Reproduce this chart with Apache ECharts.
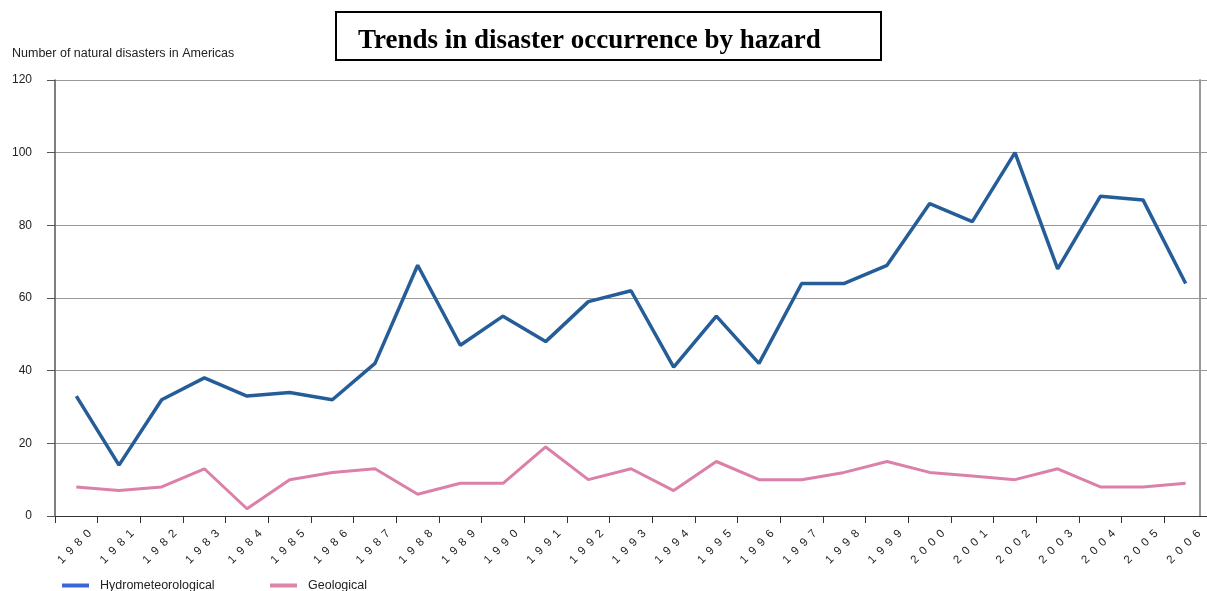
<!DOCTYPE html>
<html>
<head>
<meta charset="utf-8">
<script src="https://cdn.jsdelivr.net/npm/echarts@6/dist/echarts.min.js"></script>
<style>
html,body{margin:0;padding:0;background:#fff;}
#chart{width:1207px;height:591px;}
</style>
</head>
<body>
<div id="chart"></div>
<script>
var years = ['1980','1981','1982','1983','1984','1985','1986','1987','1988','1989','1990','1991','1992','1993','1994','1995','1996','1997','1998','1999','2000','2001','2002','2003','2004','2005','2006'];
var hydrometeorological = [33,14,32,38,33,34,32,42,69,47,55,48,59,62,41,55,42,64,64,69,86,81,100,68,88,87,64];
var geological = [8,7,8,13,2,10,12,13,6,9,9,19,10,13,7,15,10,10,12,15,12,11,10,13,8,8,9];
var yTicks = {min:0, max:120, interval:20};

var FONT = 'Liberation Sans, Arial, sans-serif';
var chart = echarts.init(document.getElementById('chart'), null, {renderer:'canvas'});
chart.setOption({
  backgroundColor:'#fff',
  animation:false,
  title:[
    {text:'Trends in disaster occurrence by hazard', left:336, top:12,
     padding:[15,61,5,22], borderColor:'#000', borderWidth:2,
     textStyle:{fontFamily:'Liberation Serif, Times New Roman, serif', fontWeight:'bold', fontSize:27, color:'#000', lineHeight:28}},
    {text:'Number of natural disasters in Americas', left:12, top:47, padding:0,
     textStyle:{fontFamily:FONT, fontWeight:'normal', fontSize:12.5, color:'#222'}}
  ],
  legend:[
    {data:[{name:'Hydrometeorological', itemStyle:{color:'#3a66dd'}}], left:62, top:579, padding:0,
     icon:'rect', itemWidth:27, itemHeight:4, selectedMode:false,
     textStyle:{fontFamily:FONT, fontSize:12.5, color:'#222', padding:[0,0,0,6]}},
    {data:[{name:'Geological', itemStyle:{color:'#dd84aa'}}], left:270, top:579, padding:0,
     icon:'rect', itemWidth:27, itemHeight:4, selectedMode:false,
     textStyle:{fontFamily:FONT, fontSize:12.5, color:'#222', padding:[0,0,0,6]}}
  ],
  grid:{left:55, right:0, top:80, bottom:75, containLabel:false},
  xAxis:{
    type:'category', data:years, boundaryGap:true,
    axisLine:{show:true, lineStyle:{color:'#333', width:1}},
    axisTick:{show:true, length:7, lineStyle:{color:'#333'}},
    axisLabel:{interval:0, rotate:45, align:'center', verticalAlign:'middle', margin:29,
      fontFamily:FONT, fontSize:11.5, color:'#222', padding:[0,5,0,0],
      formatter:function(v){return v.split('').join('\u2002');}},
    splitLine:{show:false}
  },
  yAxis:[
    {type:'value', min:yTicks.min, max:yTicks.max, interval:yTicks.interval,
     axisLine:{show:true, lineStyle:{color:'#555', width:1.5}},
     axisTick:{show:true, length:8, lineStyle:{color:'#555'}},
     axisLabel:{margin:23, fontFamily:FONT, fontSize:12, color:'#222'},
     splitLine:{show:true, lineStyle:{color:'#999', width:1}}},
    {type:'value', position:'right', offset:-7, min:yTicks.min, max:yTicks.max, interval:yTicks.interval,
     axisLine:{show:true, lineStyle:{color:'#999', width:2}},
     axisTick:{show:false}, axisLabel:{show:false}, splitLine:{show:false}}
  ],
  series:[
    {name:'Hydrometeorological', type:'line', data:hydrometeorological, showSymbol:false,
     itemStyle:{color:'#255d99'}, lineStyle:{color:'#255d99', width:3.5}, z:3},
    {name:'Geological', type:'line', data:geological, showSymbol:false,
     itemStyle:{color:'#db80a9'}, lineStyle:{color:'#db80a9', width:3}, z:2}
  ]
});
</script>
</body>
</html>
